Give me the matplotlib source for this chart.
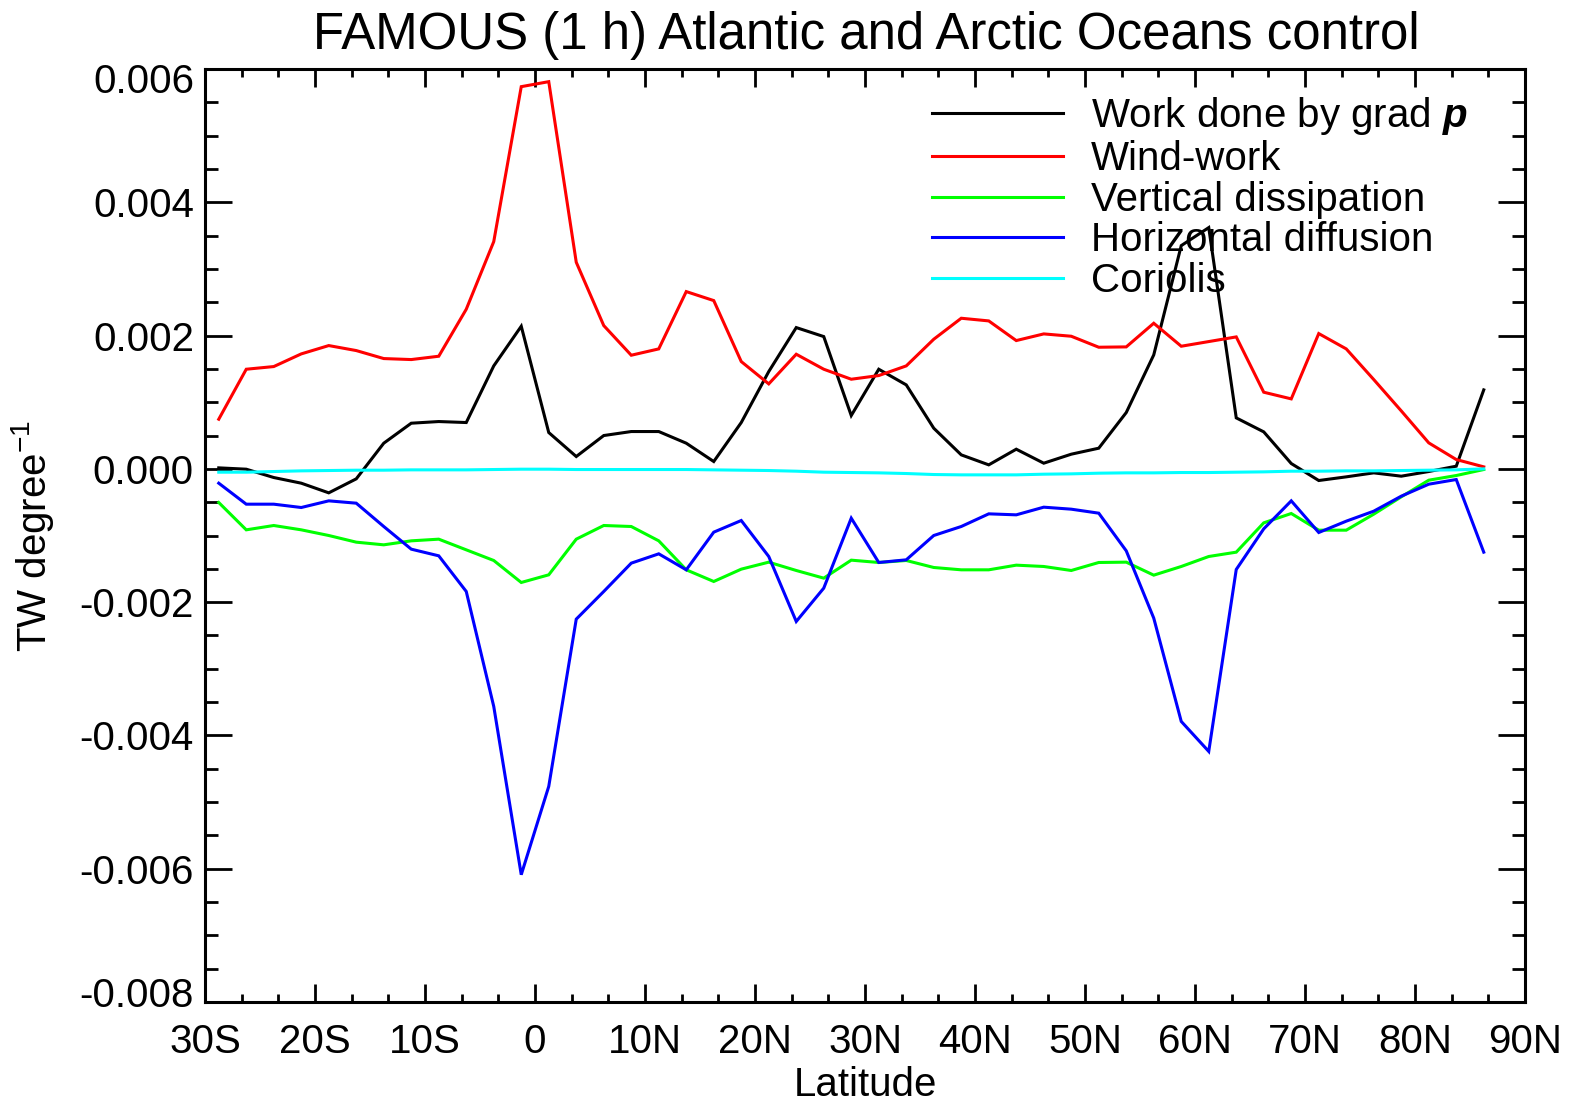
import numpy as np
import matplotlib
matplotlib.use("Agg")
import matplotlib.pyplot as plt
from matplotlib.ticker import MultipleLocator, FixedLocator, FixedFormatter, FormatStrFormatter
from matplotlib.transforms import ScaledTranslation

plt.rcParams['font.family'] = ['Liberation Sans', 'DejaVu Sans']
plt.rcParams['axes.unicode_minus'] = False
plt.rcParams['mathtext.fontset'] = 'custom'
plt.rcParams['mathtext.rm'] = 'Liberation Sans'
plt.rcParams['mathtext.it'] = 'Liberation Sans:italic'
plt.rcParams['mathtext.bf'] = 'Liberation Sans:bold'
plt.rcParams['mathtext.bfit'] = 'Liberation Sans:italic:bold'

# Latitude grid (degrees, negative = south)
lat = [-28.75, -26.25, -23.75, -21.25, -18.75, -16.25, -13.75, -11.25, -8.75, -6.25,
       -3.75, -1.25, 1.25, 3.75, 6.25, 8.75, 11.25, 13.75, 16.25, 18.75,
       21.25, 23.75, 26.25, 28.75, 31.25, 33.75, 36.25, 38.75, 41.25, 43.75,
       46.25, 48.75, 51.25, 53.75, 56.25, 58.75, 61.25, 63.75, 66.25, 68.75,
       71.25, 73.75, 76.25, 78.75, 81.25, 83.75, 86.25]

# Values in units of 1e-3 TW per degree
grad_p = [0.015, -0.005, -0.13, -0.215, -0.36, -0.15, 0.385, 0.685, 0.71, 0.695,
          1.545, 2.14, 0.545, 0.185, 0.50, 0.56, 0.56, 0.385, 0.11, 0.695,
          1.46, 2.12, 1.985, 0.80, 1.495, 1.26, 0.61, 0.21, 0.06, 0.295,
          0.085, 0.22, 0.31, 0.845, 1.71, 3.35, 3.62, 0.765, 0.555, 0.08,
          -0.175, -0.12, -0.06, -0.11, -0.04, 0.04, 1.185]
wind_work = [0.745, 1.495, 1.535, 1.725, 1.85, 1.775, 1.655, 1.64, 1.69, 2.395,
             3.41, 5.735, 5.81, 3.10, 2.15, 1.705, 1.80, 2.66, 2.525, 1.61,
             1.275, 1.72, 1.495, 1.345, 1.40, 1.545, 1.945, 2.26, 2.22, 1.925,
             2.025, 1.99, 1.825, 1.83, 2.185, 1.84, 1.91, 1.98, 1.15, 1.05,
             2.03, 1.80, 1.34, 0.87, 0.39, 0.14, 0.03]
vert_diss = [-0.505, -0.915, -0.85, -0.915, -1.00, -1.10, -1.14, -1.08, -1.055, -1.215,
             -1.375, -1.705, -1.59, -1.055, -0.85, -0.865, -1.08, -1.515, -1.69, -1.505,
             -1.40, -1.525, -1.64, -1.37, -1.405, -1.375, -1.48, -1.515, -1.515, -1.445,
             -1.465, -1.525, -1.405, -1.40, -1.595, -1.465, -1.315, -1.25, -0.81, -0.67,
             -0.92, -0.92, -0.68, -0.42, -0.17, -0.10, -0.01]
hor_diff = [-0.215, -0.53, -0.53, -0.58, -0.48, -0.515, -0.865, -1.205, -1.305, -1.84,
            -3.565, -6.09, -4.765, -2.255, -1.84, -1.415, -1.275, -1.515, -0.95, -0.775,
            -1.315, -2.29, -1.79, -0.74, -1.405, -1.365, -1.00, -0.865, -0.675, -0.69,
            -0.575, -0.605, -0.665, -1.23, -2.24, -3.79, -4.24, -1.51, -0.90, -0.48,
            -0.955, -0.785, -0.635, -0.41, -0.23, -0.16, -1.25]
coriolis = [-0.05, -0.05, -0.04, -0.03, -0.025, -0.02, -0.02, -0.015, -0.015, -0.015,
            -0.01, -0.005, -0.005, -0.01, -0.01, -0.01, -0.01, -0.01, -0.015, -0.02,
            -0.025, -0.035, -0.05, -0.055, -0.06, -0.07, -0.085, -0.09, -0.09, -0.09,
            -0.08, -0.075, -0.065, -0.06, -0.06, -0.055, -0.055, -0.05, -0.045, -0.035,
            -0.035, -0.03, -0.03, -0.025, -0.02, -0.015, 0.0]

series_labels = [r'Work done by grad $\mathbfit{p}$', 'Wind-work', 'Vertical dissipation',
                 'Horizontal diffusion', 'Coriolis']
series_colors = ['#000000', '#ff0000', '#00ff00', '#0000ff', '#00ffff']

xtick_vals = [-30, -20, -10, 0, 10, 20, 30, 40, 50, 60, 70, 80, 90]
xtick_labels = ['30S', '20S', '10S', '0', '10N', '20N', '30N', '40N', '50N', '60N', '70N', '80N', '90N']
ytick_vals = [-0.008, -0.006, -0.004, -0.002, 0.000, 0.002, 0.004, 0.006]

W, H = 1569, 1104
fig = plt.figure(figsize=(W / 100, H / 100), dpi=100)
ax = fig.add_axes([205 / W, 1 - 1002 / H, 1320 / W, 933 / H])

scale = 1e-3
lat_a = np.array(lat)
for vals, lab, col in zip([grad_p, wind_work, vert_diss, hor_diff, coriolis],
                          series_labels, series_colors):
    ax.plot(lat_a, np.array(vals) * scale, color=col, lw=2.2, label=lab,
            solid_joinstyle='miter')

ax.set_xlim(-30, 90)
ax.set_ylim(-0.008, 0.006)

fs = 29
ax.xaxis.set_major_locator(FixedLocator(xtick_vals))
ax.xaxis.set_major_formatter(FixedFormatter(xtick_labels))
ax.xaxis.set_minor_locator(MultipleLocator(10 / 3))
ax.yaxis.set_major_locator(FixedLocator(ytick_vals))
ax.yaxis.set_major_formatter(FormatStrFormatter('%.3f'))
ax.yaxis.set_minor_locator(MultipleLocator(0.0005))

ax.tick_params(axis='both', which='both', direction='in', top=True, right=True,
               width=2, labelsize=fs, color='black')
ax.tick_params(axis='x', which='major', length=13, pad=15)
ax.tick_params(axis='x', which='minor', length=6)
ax.tick_params(axis='y', which='major', length=19.4, pad=8)
ax.tick_params(axis='y', which='minor', length=9.7)
for s in ax.spines.values():
    s.set_linewidth(2.2)

# IDL-style nudging of the end y labels inside the axis range
yticks = ax.yaxis.get_major_ticks()
yticks[0].label1.set_transform(yticks[0].label1.get_transform()
                               + ScaledTranslation(0, 10 / 100, fig.dpi_scale_trans))
yticks[-1].label1.set_transform(yticks[-1].label1.get_transform()
                                + ScaledTranslation(0, -9 / 100, fig.dpi_scale_trans))

ax.set_xlabel('Latitude', fontsize=fs, va='top')
ax.xaxis.set_label_coords(0.5, -0.069)
ax.set_ylabel(r'TW degree$^{\mathregular{-1}}$', fontsize=fs)
ax.yaxis.set_label_coords(-0.113, 0.5)

fig.text(866 / W, 1 - 49 / H, 'FAMOUS (1 h) Atlantic and Arctic Oceans control',
         fontsize=36.7, ha='center', va='baseline')

leg = ax.legend(loc='upper left', bbox_to_anchor=((932 - 205) / 1320, (1002 - 95) / 933),
                frameon=False, fontsize=fs, handlelength=3.25, handletextpad=0.7,
                labelspacing=0.07, borderpad=0, borderaxespad=0)
for line in leg.get_lines():
    line.set_linewidth(2.2)

fig.savefig('out.png', dpi=100)
